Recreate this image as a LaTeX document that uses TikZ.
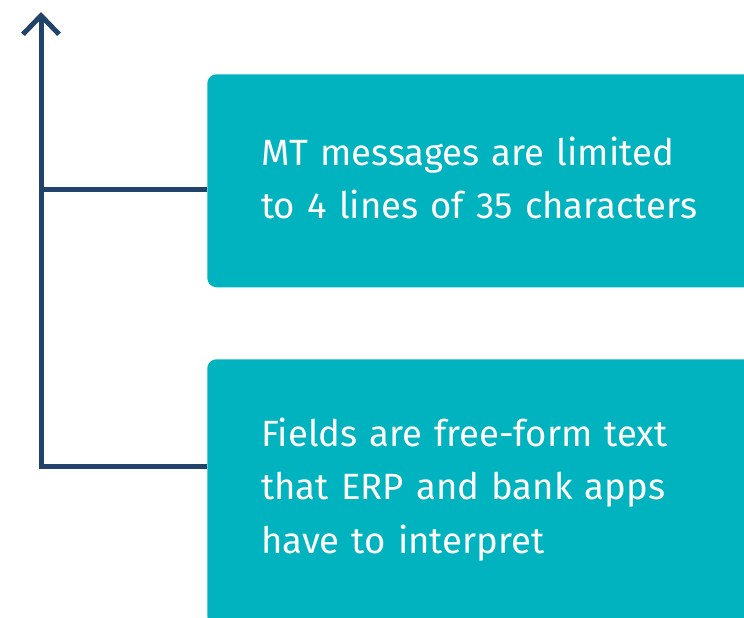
\documentclass[tikz,border=0pt]{standalone}
\usepackage{fontspec}
\setmainfont{Fira Sans}
\usetikzlibrary{arrows.meta}
\usetikzlibrary{calc}

\definecolor{linkblue}{HTML}{21436A}
\definecolor{boxteal}{HTML}{00B3BE}

\tikzset{
  factbox/.style={rectangle, rounded corners=7pt, fill=boxteal, text=white,
    anchor=north west, align=left, text width=400pt, inner xsep=40.5pt,
    font=\fontsize{27.4pt}{40pt}\selectfont},
  spine/.style={draw=linkblue, line width=3.75pt, line join=miter}
}

\begin{document}
\begin{tikzpicture}[x=0.75pt,y=-0.75pt,>={Straight Barb[length=14pt,width=27pt]}]
    \useasboundingbox (0,0) rectangle (744,618);
    \begin{scope}
    \clip (0,0) rectangle (744,618);
    \node[factbox, minimum height=159.75pt] (limits) at (207,74)
      {MT messages are limited\\to 4 lines of 35 characters\vspace{4pt}};
    \node[factbox, minimum height=199.5pt] (freeform) at (207,359)
      {Fields are free-form text\\that ERP and bank apps\\have to interpret\vspace{4pt}};
    \end{scope}
    %
    \coordinate (tip) at (41,12);
    \coordinate (base) at (41,466);
    \coordinate (fork) at (41,189);
    \draw[spine,->] (base -| freeform.west) -- (base) -- (tip);
    \draw[spine] (fork) -- (fork -| limits.west);
\end{tikzpicture}
\end{document}
